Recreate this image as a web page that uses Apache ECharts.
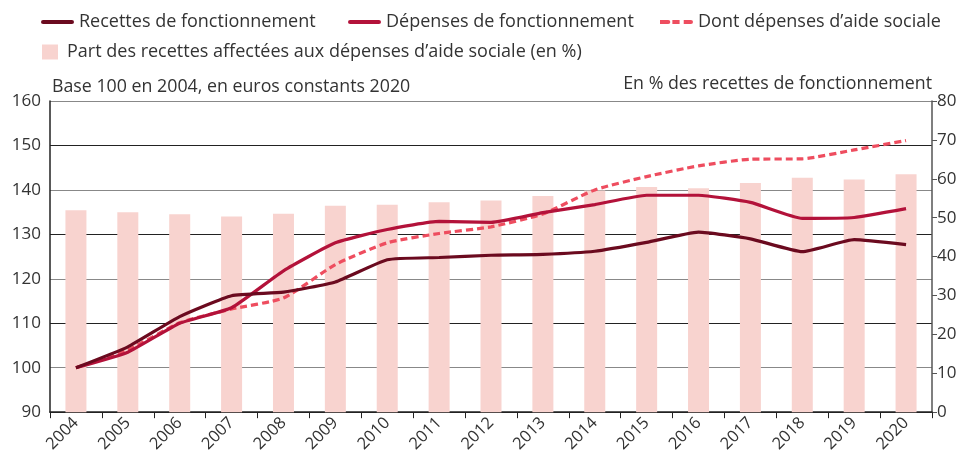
<!DOCTYPE html>
<html lang="fr">
<head>
    <meta charset="UTF-8">
    <title>Recettes et dépenses de fonctionnement</title>
    <script src="https://cdn.jsdelivr.net/npm/echarts@6/dist/echarts.min.js"></script>
    <style>
        html, body { margin: 0; padding: 0; background: #fff; }
        #charts { width: 963px; height: 455px; }
    </style>
</head>
<body>
<div id="charts"></div>
<script>
    var years = ['2004','2005','2006','2007','2008','2009','2010','2011','2012',
                 '2013','2014','2015','2016','2017','2018','2019','2020'];
    // base 100 en 2004
    var recettes = [100, 104.7, 111.5, 116.2, 117.0, 119.3, 124.3, 124.8, 125.3,
                    125.5, 126.2, 128.2, 130.5, 129.0, 126.1, 128.8, 127.7];
    var depenses = [100, 103.5, 110.0, 113.5, 121.8, 128.1, 131.1, 132.9, 132.7,
                    134.9, 136.7, 138.8, 138.8, 137.2, 133.6, 133.8, 135.8];
    var aideSociale = [100, 104.0, 110.1, 113.2, 115.7, 123.2, 128.1, 130.2, 131.7,
                       134.6, 140.0, 143.0, 145.4, 146.9, 147.0, 149.0, 151.1];
    // en % des recettes
    var partAide = [51.9, 51.4, 50.9, 50.3, 51.0, 53.1, 53.3, 54.0, 54.4,
                    55.6, 57.0, 57.9, 57.6, 58.9, 60.3, 59.8, 61.2];

    var nomRecettes = 'Recettes de fonctionnement';
    var nomDepenses = 'Dépenses de fonctionnement';
    var nomAide = 'Dont dépenses d\u2019aide sociale';
    var nomPart = 'Part des recettes affectées aux dépenses d\u2019aide sociale (en %)';

    var font = '"Open Sans", "Noto Sans", sans-serif';
    var txt = '#333';

    var iconPlein = 'path://M2,0H30A2,2,0,0,1,30,4H2A2,2,0,0,1,2,0Z';
    var iconTirets = 'path://M1,0H9A2,2,0,0,1,9,4H1Z M13,0H20V4H13Z M24,0H31A2,2,0,0,1,31,4H24Z';

    // une légende par entrée, pour caler les positions
    function lineLegend(left, name, icon) {
        return {
            left: left, top: 8,
            icon: icon,
            itemWidth: 33, itemHeight: 4.5,
            textStyle: { color: txt, fontSize: 18, fontFamily: font },
            data: [name]
        };
    }

    var myChart = echarts.init(document.getElementById('charts'));

    var option = {
        animation: false,
        textStyle: { fontFamily: font },
        legend: [
            lineLegend(36, nomRecettes, iconPlein),
            lineLegend(343, nomDepenses, iconPlein),
            lineLegend(655, nomAide, iconTirets),
            {
                left: 37, top: 38,
                icon: 'rect', itemWidth: 16, itemHeight: 15,
                textStyle: { color: txt, fontSize: 18, fontFamily: font, padding: [0, 0, 0, 4] },
                data: [nomPart]
            }
        ],
        grid: { left: 50, right: 31, top: 101, bottom: 42 },
        xAxis: {
            type: 'category',
            data: years,
            boundaryGap: true,
            axisLine: { lineStyle: { color: '#222', width: 1.5 } },
            axisTick: { show: true, length: 6, lineStyle: { color: '#222' } },
            axisLabel: { rotate: 45, color: txt, fontSize: 16.5, margin: 8, fontFamily: font }
        },
        yAxis: [
            {
                type: 'value', min: 90, max: 160, interval: 10,
                name: 'Base 100 en 2004, en euros constants 2020',
                nameLocation: 'end', nameGap: 5,
                nameTextStyle: { align: 'left', color: txt, fontSize: 17.8, fontFamily: font, padding: [0, 0, 0, 2] },
                axisLine: { show: true, lineStyle: { color: '#222', width: 1.5 } },
                axisTick: { show: false },
                axisLabel: { color: txt, fontSize: 17, margin: 9, fontFamily: font },
                splitLine: { lineStyle: { color: ['#222', '#888'], width: 1 } }
            },
            {
                type: 'value', min: 0, max: 80, interval: 10,
                name: 'En % des recettes de fonctionnement',
                nameLocation: 'end', nameGap: 5,
                nameTextStyle: { align: 'right', color: txt, fontSize: 17.8, fontFamily: font },
                axisLine: { show: true, lineStyle: { color: '#555', width: 1.5 } },
                axisTick: { show: true, length: 5, lineStyle: { color: '#555' } },
                axisLabel: { color: txt, fontSize: 17, margin: 5, fontFamily: font },
                splitLine: { show: false }
            }
        ],
        series: [
            {
                name: nomPart,
                type: 'bar',
                yAxisIndex: 1,
                barWidth: 21,
                itemStyle: { color: '#f8d3cf' },
                z: 1,
                data: partAide
            },
            {
                name: nomRecettes,
                type: 'line',
                smooth: 0.15,
                symbol: 'none',
                lineStyle: { color: '#6b0a1f', width: 3.2 },
                itemStyle: { color: '#6b0a1f' },
                z: 5,
                data: recettes
            },
            {
                name: nomDepenses,
                type: 'line',
                smooth: 0.15,
                symbol: 'none',
                lineStyle: { color: '#b3123a', width: 3.2 },
                itemStyle: { color: '#b3123a' },
                z: 4,
                data: depenses
            },
            {
                name: nomAide,
                type: 'line',
                smooth: 0.2,
                symbol: 'none',
                lineStyle: { color: '#ee4d5f', width: 3.2, type: [7, 4] },
                itemStyle: { color: '#ee4d5f' },
                z: 3,
                data: aideSociale
            }
        ]
    };

    myChart.setOption(option);
</script>
</body>
</html>
